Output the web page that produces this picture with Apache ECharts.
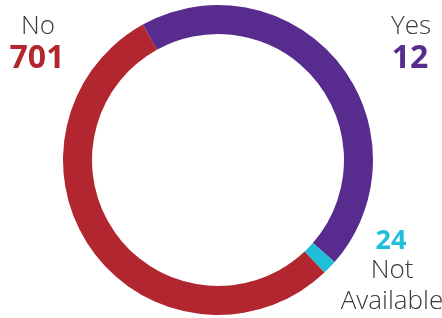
<!DOCTYPE html>
<html lang="en">
<head>
    <meta charset="UTF-8">
    <title>Donut</title>
    <style>
        html,
        body,
        #chart {
            margin: 0px;
            padding: 0px;
            width: 100%;
            height: 100%;
            background: #fff;
        }
    </style>
</head>
<body>
    <div id="chart"></div>
    <script src="https://cdn.jsdelivr.net/npm/echarts@6/dist/echarts.min.js"></script>
    <script>
        // categories, in drawing order (clockwise from the top-left)
        var categories = ['Yes', 'Not Available', 'No'];
        // numbers printed next to the ring
        var counts = [12, 24, 701];
        // arc sizes as drawn in the picture (percent of the ring)
        var arcShares = [44.5, 1.5, 54];
        var colors = ['#582c8e', '#20bfd9', '#b1262f'];

        var chart = echarts.init(document.getElementById('chart'));

        var data = [];
        for (var i = 0; i < categories.length; i++) {
            data.push({ name: categories[i], value: arcShares[i], itemStyle: { color: colors[i] } });
        }

        var nameStyle = { fontFamily: 'Open Sans', fontWeight: 300, fontSize: 26, fill: '#3a3a3a' };
        var numStyle = { fontFamily: 'Open Sans', fontWeight: 'bold', fontSize: 32 };

        function label(text, x, y, style, color) {
            var s = Object.assign({}, style, { text: text, x: x, y: y, textAlign: 'center', textVerticalAlign: 'middle' });
            if (color) s.fill = color;
            return { type: 'text', style: s };
        }

        // "Not Available" is set on two lines
        var naLines = categories[1].split(' ');

        chart.setOption({
            animation: false,
            series: [{
                type: 'pie',
                center: [218, 160],
                radius: [126, 155],
                startAngle: 119,
                clockwise: true,
                label: { show: false },
                labelLine: { show: false },
                emphasis: { disabled: true },
                data: data
            }],
            graphic: [
                label(categories[2], 38, 27, nameStyle),
                label(String(counts[2]), 37, 59, numStyle, colors[2]),
                label(categories[0], 411, 27, nameStyle),
                label(String(counts[0]), 410, 59, numStyle, colors[0]),
                label(String(counts[1]), 391, 241, Object.assign({}, numStyle, { fontSize: 27 }), colors[1]),
                label(naLines[0], 392, 271, nameStyle),
                label(naLines[1], 392, 302, nameStyle)
            ]
        });

        window.addEventListener('resize', function () {
            chart.resize();
        });
    </script>
</body>
</html>
